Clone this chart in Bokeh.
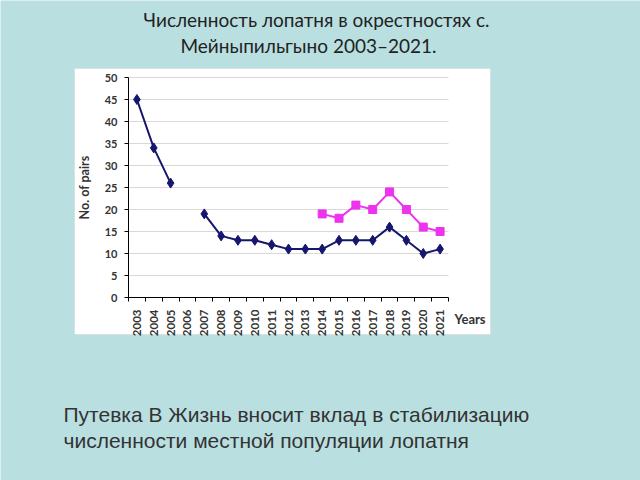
import math
from bokeh.plotting import figure
from bokeh.models import Label, BoxAnnotation, FixedTicker, Range1d
from bokeh.embed import file_html
from bokeh.resources import INLINE

nan = float("nan")
years = list(range(2003, 2022))
pairs_total = [45, 34, 26, nan, 19, 14, 13, 13, 12, 11, 11, 11, 13, 13, 13, 16, 13, 10, 11]
pairs_second = [nan] * 11 + [19, 18, 21, 20, 24, 20, 16, 15]
y_ticks = list(range(0, 51, 5))
title_lines = ["Численность лопатня в окрестностях с.", "Мейныпильгыно 2003–2021."]
note_lines = ["Путевка В Жизнь вносит вклад в стабилизацию",
              "численности местной популяции лопатня"]

BG = "#b9dfe1"
NAVY = "#16166e"
MAGENTA = "#ee33ee"
CHART_FONT = "Lato"

W, H = 640, 480
# plot area (axes box) placement on the canvas, in pixels
AX_L, AX_R, AX_T, AX_B = 128, 448, 77, 297
x_lo, x_hi = years[0] - 0.5, years[-1] + 0.5
y_lo, y_hi = 0, 50
ppx = (AX_R - AX_L) / (x_hi - x_lo)
ppy = (AX_B - AX_T) / (y_hi - y_lo)

p = figure(width=W, height=H, output_backend="svg", toolbar_location=None,
           x_range=Range1d(x_lo - AX_L / ppx, x_hi + (W - AX_R) / ppx),
           y_range=Range1d(y_lo - (H - AX_B) / ppy, y_hi + AX_T / ppy),
           min_border=0)
p.border_fill_color = BG
p.background_fill_color = BG
p.outline_line_color = None

box = BoxAnnotation(left=74, right=490, top=68, bottom=334,
                    left_units="canvas", right_units="canvas", top_units="canvas", bottom_units="canvas",
                    fill_color="white", fill_alpha=1.0, line_color="#c8c8c8", line_width=1, level="image")
p.add_layout(box)

p.xgrid.grid_line_color = None
p.ygrid.grid_line_color = "#d9d9d9"
p.ygrid.ticker = FixedTicker(ticks=y_ticks)
p.ygrid.bounds = (y_lo, y_hi)
p.ygrid.cross_bounds = (x_lo, x_hi)

p.yaxis.fixed_location = x_lo
p.yaxis.bounds = (y_lo, y_hi)
p.yaxis.ticker = FixedTicker(ticks=y_ticks)
p.yaxis.axis_line_color = "black"
p.yaxis.major_tick_line_color = "black"
p.yaxis.major_tick_out = 4
p.yaxis.major_tick_in = 0
p.yaxis.minor_tick_line_color = None
p.yaxis.major_label_standoff = 7
p.yaxis.major_label_text_font = CHART_FONT
p.yaxis.major_label_text_font_style = "bold"
p.yaxis.major_label_text_font_size = "11px"
p.yaxis.major_label_text_color = "#333333"
p.yaxis.axis_label = "No. of pairs"
p.yaxis.axis_label_text_font = CHART_FONT
p.yaxis.axis_label_text_font_style = "bold"
p.yaxis.axis_label_text_font_size = "12.5px"
p.yaxis.axis_label_text_color = "#333333"
p.yaxis.axis_label_standoff = 10

p.xaxis.fixed_location = y_lo
p.xaxis.bounds = (x_lo, x_hi)
p.xaxis.ticker = FixedTicker(ticks=years, minor_ticks=[y - 0.5 for y in years] + [years[-1] + 0.5])
p.xaxis.major_label_overrides = {y: str(y) for y in years}
p.xaxis.axis_line_color = "black"
p.xaxis.major_tick_out = 0
p.xaxis.major_tick_in = 0
p.xaxis.minor_tick_out = 4
p.xaxis.minor_tick_in = 0
p.xaxis.minor_tick_line_color = "black"
p.xaxis.major_label_orientation = math.pi / 2
p.xaxis.major_label_standoff = 8
p.xaxis.major_label_text_font = CHART_FONT
p.xaxis.major_label_text_font_style = "bold"
p.xaxis.major_label_text_font_size = "11.5px"
p.xaxis.major_label_text_color = "#333333"

p.line(years, pairs_total, line_color=NAVY, line_width=2)
p.scatter(years, pairs_total, marker="diamond", size=10, fill_color=NAVY, line_color=NAVY)
p.line(years, pairs_second, line_color=MAGENTA, line_width=2)
p.scatter(years, pairs_second, marker="square", size=8, fill_color=MAGENTA, line_color=MAGENTA)

p.add_layout(Label(x=454, y=318, x_units="canvas", y_units="canvas", text="Years",
                   text_font=CHART_FONT, text_font_style="bold", text_font_size="13px",
                   text_color="#333333", text_baseline="alphabetic"))

title_centers = [316, 308]
for i, t in enumerate(title_lines):
    p.add_layout(Label(x=title_centers[i], y=19 + 26 * i, x_units="canvas", y_units="canvas", text=t,
                       text_font="Lato", text_font_size="19px", text_color="#222222",
                       text_align="center", text_baseline="alphabetic"))

for i, t in enumerate(note_lines):
    p.add_layout(Label(x=63, y=414 + 26 * i, x_units="canvas", y_units="canvas", text=t,
                       text_font="Liberation Sans", text_font_size="21px", text_color="#333333",
                       text_align="left", text_baseline="alphabetic"))

open("out.html", "w").write(file_html(p, INLINE))
